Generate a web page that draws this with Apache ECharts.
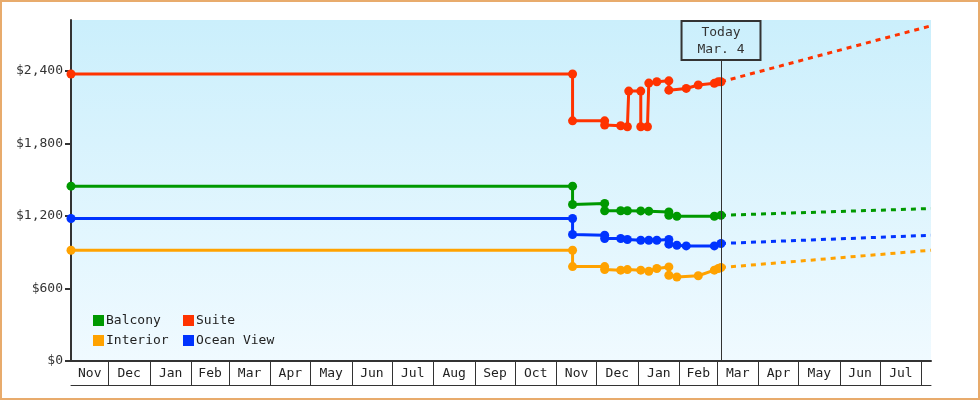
<!DOCTYPE html>
<html>
<head>
<meta charset="utf-8">
<script src="https://cdn.jsdelivr.net/npm/echarts@6/dist/echarts.min.js"></script>
<style>
  html, body { margin: 0; padding: 0; background: #fff; }
  #wrap { width: 980px; height: 400px; box-sizing: border-box; border: 2px solid #e8ab6c; }
  #chart { width: 976px; height: 396px; }
</style>
</head>
<body>
<div id="wrap"><div id="chart"></div></div>
<script>
// ---------------- data ----------------
const X_START = '2013-11-03';
const X_END = '2015-08-08';
const TODAY = '2015-03-04';
const TODAY_LABEL = 'Today\nMar. 4';

const MONTH_STARTS = [
  '2013-12-01','2014-01-01','2014-02-01','2014-03-01','2014-04-01','2014-05-01',
  '2014-06-01','2014-07-01','2014-08-01','2014-09-01','2014-10-01','2014-11-01',
  '2014-12-01','2015-01-01','2015-02-01','2015-03-01','2015-04-01','2015-05-01',
  '2015-06-01','2015-07-01','2015-08-01'
];
const MONTH_LABELS = [
  'Nov','Dec','Jan','Feb','Mar','Apr','May','Jun','Jul','Aug','Sep','Oct',
  'Nov','Dec','Jan','Feb','Mar','Apr','May','Jun','Jul'
];
const Y_TICKS = [0, 600, 1200, 1800, 2400];
const Y_MAX = 2820;

const BALCONY = [
  ['2013-11-03',1446],['2014-11-13',1446],['2014-11-13',1294],['2014-12-07',1303],
  ['2014-12-07',1243],['2014-12-19',1243],['2014-12-24',1243],['2015-01-03',1241],
  ['2015-01-09',1239],['2015-01-24',1233],['2015-01-24',1205],['2015-01-30',1197],
  ['2015-02-27',1197],['2015-03-04',1205]
];
const SUITE = [
  ['2013-11-03',2373],['2014-11-13',2373],['2014-11-13',1986],['2014-12-07',1986],
  ['2014-12-07',1951],['2014-12-19',1945],['2014-12-24',1937],['2014-12-25',2232],
  ['2015-01-03',2232],['2015-01-03',1937],['2015-01-08',1937],['2015-01-09',2298],
  ['2015-01-15',2309],['2015-01-24',2317],['2015-01-24',2240],['2015-02-06',2254],
  ['2015-02-15',2282],['2015-02-27',2296],['2015-03-02',2309],['2015-03-04',2309]
];
const INTERIOR = [
  ['2013-11-03',916],['2014-11-13',916],['2014-11-13',781],['2014-12-07',781],
  ['2014-12-07',756],['2014-12-19',751],['2014-12-24',756],['2015-01-03',751],
  ['2015-01-09',742],['2015-01-15',765],['2015-01-24',778],['2015-01-24',709],
  ['2015-01-30',695],['2015-02-15',705],['2015-02-27',751],['2015-03-02',765],
  ['2015-03-04',773]
];
const OCEAN_VIEW = [
  ['2013-11-03',1178],['2014-11-13',1178],['2014-11-13',1046],['2014-12-07',1040],
  ['2014-12-07',1013],['2014-12-19',1013],['2014-12-24',1005],['2015-01-03',999],
  ['2015-01-09',999],['2015-01-15',999],['2015-01-24',1005],['2015-01-24',966],
  ['2015-01-30',957],['2015-02-06',952],['2015-02-27',952],['2015-03-04',972]
];

const BALCONY_PROJ    = [['2015-03-04',1205],['2015-08-08',1261]];
const SUITE_PROJ      = [['2015-03-04',2309],['2015-08-08',2772]];
const INTERIOR_PROJ   = [['2015-03-04',773],['2015-08-08',916]];
const OCEAN_VIEW_PROJ = [['2015-03-04',972],['2015-08-08',1040]];

// value where the "Today" line meets its label box
const TODAY_LINE_TOP = 2489;

// ---------------- chart ----------------
function ts(s) { const p = s.split('-').map(Number); return Date.UTC(p[0], p[1] - 1, p[2]); }
function pts(arr) { return arr.map(d => [ts(d[0]), d[1]]); }

const bounds = [X_START].concat(MONTH_STARTS).map(ts);
const labelValues = MONTH_LABELS.map((_, i) => (bounds[i] + bounds[i + 1]) / 2);
const labelText = {};
labelValues.forEach((v, i) => { labelText[v] = MONTH_LABELS[i]; });

const FONT = 'DejaVu Sans Mono';
const INK = '#333';

const COLORS = { Balcony: '#009900', Suite: '#ff3300', Interior: '#ffa200', 'Ocean View': '#0033ff' };

function solid(name, data, extra) {
  return Object.assign({
    name, type: 'line', data: pts(data), color: COLORS[name],
    symbol: 'circle', symbolSize: 9, showSymbol: true,
    lineStyle: { width: 3, color: COLORS[name] },
    itemStyle: { color: COLORS[name] },
    animation: false, z: 3
  }, extra || {});
}
function dashed(name, data) {
  return {
    name, type: 'line', data: pts(data), color: COLORS[name],
    symbol: 'none',
    lineStyle: { width: 3, type: [5, 5], color: COLORS[name] },
    animation: false, z: 2
  };
}

function legend(name, left, top) {
  return {
    data: [name], left, top, padding: 0, orient: 'horizontal',
    icon: 'rect', itemWidth: 11, itemHeight: 11, itemGap: 0,
    selectedMode: false,
    textStyle: { fontFamily: FONT, fontSize: 13, color: '#222', padding: [0, 0, 0, -3] }
  };
}

const chart = echarts.init(document.getElementById('chart'), null, { renderer: 'canvas' });
chart.setOption({
  backgroundColor: '#fff',
  animation: false,
  grid: {
    left: 69, right: 47, top: 18, bottom: 37, show: true, borderWidth: 0,
    backgroundColor: new echarts.graphic.LinearGradient(0, 0, 0, 1, [
      { offset: 0, color: '#cbeffc' }, { offset: 1, color: '#f0faff' }
    ])
  },
  legend: [
    legend('Balcony', 91, 312),
    legend('Suite', 181, 312),
    legend('Interior', 91, 332),
    legend('Ocean View', 181, 332)
  ],
  xAxis: [{
    type: 'value', min: ts(X_START), max: ts(X_END),
    axisLine: { show: true, lineStyle: { color: INK, width: 2 } },
    axisTick: { show: true, customValues: MONTH_STARTS.map(ts), length: 24, lineStyle: { color: INK, width: 1 } },
    axisLabel: {
      show: true, customValues: labelValues, margin: 6, hideOverlap: false,
      fontFamily: FONT, fontSize: 13, color: '#222',
      formatter: v => labelText[v] || ''
    },
    splitLine: { show: false }
  }, {
    type: 'value', min: ts(X_START), max: ts(X_END), position: 'bottom', offset: 24,
    axisLine: { show: true, lineStyle: { color: INK, width: 1 } },
    axisTick: { show: false }, axisLabel: { show: false }, splitLine: { show: false }
  }],
  yAxis: {
    type: 'value', min: 0, max: Y_MAX,
    axisLine: { show: true, lineStyle: { color: INK, width: 2 } },
    axisTick: { show: true, customValues: Y_TICKS, length: 6, lineStyle: { color: INK, width: 2 } },
    axisLabel: {
      customValues: Y_TICKS, margin: 8, fontFamily: FONT, fontSize: 13, color: '#333',
      formatter: v => '$' + Number(v).toLocaleString('en-US')
    },
    splitLine: { show: false }
  },
  series: [
    dashed('Balcony', BALCONY_PROJ),
    dashed('Suite', SUITE_PROJ),
    dashed('Interior', INTERIOR_PROJ),
    dashed('Ocean View', OCEAN_VIEW_PROJ),
    solid('Balcony', BALCONY, {
      markLine: {
        silent: true, symbol: 'none', animation: false,
        lineStyle: { color: INK, width: 1, type: 'solid' },
        label: {
          show: true, position: 'end', distance: 0, formatter: TODAY_LABEL,
          fontFamily: FONT, fontSize: 13, lineHeight: 17, color: '#333',
          borderColor: INK, borderWidth: 1, padding: [3, 16, 2, 16],
          backgroundColor: 'transparent', align: 'center'
        },
        data: [[{ coord: [ts(TODAY), 0] }, { coord: [ts(TODAY), TODAY_LINE_TOP] }]]
      }
    }),
    solid('Suite', SUITE),
    solid('Interior', INTERIOR),
    solid('Ocean View', OCEAN_VIEW)
  ]
});
</script>
</body>
</html>
